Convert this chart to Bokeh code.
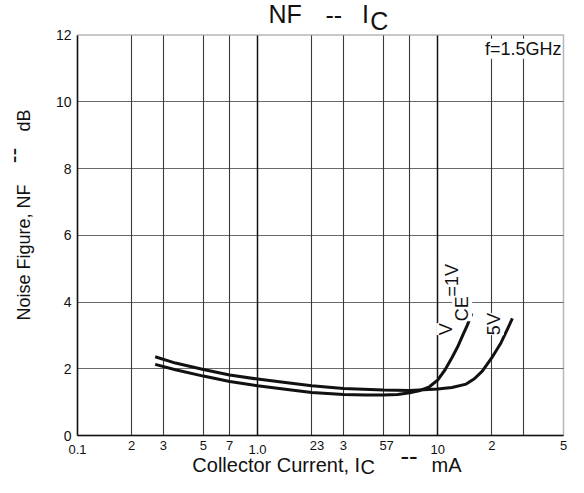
import math
from bokeh.plotting import figure
from bokeh.models import FixedTicker, Grid, Label, Range1d, BoxAnnotation
from bokeh.embed import file_html
from bokeh.resources import INLINE

# ---------------- data ----------------
ic_1v = [0.27, 0.35, 0.5, 0.7, 1.0, 1.5, 2.0, 3.0, 4.0, 5.0, 6.0, 7.0, 8.0,
         9.0, 10.0, 11.0, 12.0, 12.9, 13.7, 14.6, 15.5]
nf_1v = [2.13, 1.97, 1.78, 1.62, 1.49, 1.37, 1.29, 1.23, 1.21, 1.21, 1.23,
         1.28, 1.35, 1.46, 1.66, 1.97, 2.33, 2.65, 2.97, 3.30, 3.66]

ic_5v = [0.27, 0.35, 0.5, 0.7, 1.0, 1.5, 2.0, 3.0, 5.0, 7.0, 10.0, 12.0,
         14.4, 16.0, 17.7, 20.0, 22.5, 24.5, 26.0]
nf_5v = [2.36, 2.17, 1.98, 1.81, 1.69, 1.57, 1.49, 1.41, 1.36, 1.35, 1.39,
         1.44, 1.54, 1.70, 1.93, 2.33, 2.78, 3.20, 3.51]

x_min, x_max = 0.1, 50
y_min, y_max = 0, 12
grid_minor_x = [0.2, 0.3, 0.5, 0.7, 2, 3, 5, 7, 20, 30]
grid_decade_x = [1, 10]
grid_y = [2, 4, 6, 8, 10]
y_ticks = [0, 2, 4, 6, 8, 10, 12]

x_label_ticks = [0.2, 0.3, 0.5, 0.7, 3, 20, 50]
x_label_text = ["2", "3", "5", "7", "3", "2", "5"]
x_low_ticks = [0.1, 1.0, 10]
x_low_text = ["0.1", "1.0", "10"]
x_shift_text = ["23", "57"]

FONT = "Liberation Sans"
INK = "#111111"

# ---------------- layout (pixels of the canvas) ----------------
W, H = 568, 477
FL, FR, FT, FB = 77.0, 563.0, 34.5, 435.0       # inner chart rectangle
DEC = (FR - FL) / math.log10(x_max / x_min)
PPU = (FB - FT) / (y_max - y_min)
MID = 0.35   # labels are drawn centred ~0.35 em below the given point


def X(px):  # canvas x -> data x
    return x_min * 10 ** ((px - FL) / DEC)


def Y(py):  # canvas y -> data y
    return y_min + (FB - py) / PPU


def MX(rx):  # horizontal position measured on the reference -> canvas x
    return FL + (rx - 81.0) * (FR - FL) / 491.0


def RYpx(py):  # y inside the chart as read on the reference -> canvas y
    return FB - (446.5 - py) / 33.75 * PPU


p = figure(width=W, height=H, x_axis_type="log",
           x_range=Range1d(X(0), X(W)), y_range=Range1d(Y(H), Y(0)),
           output_backend="svg", toolbar_location=None,
           min_border_left=0, min_border_right=0,
           min_border_top=0, min_border_bottom=0)
p.title.visible = False
p.outline_line_color = None
p.background_fill_color = "white"
p.border_fill_color = "white"
p.xgrid.visible = False
p.ygrid.visible = False


def add_grid(dim, ticks, color, width, cross):
    if "cross_bounds" in Grid.properties():
        p.add_layout(Grid(dimension=dim, ticker=FixedTicker(ticks=ticks),
                          grid_line_color=color, grid_line_width=width,
                          cross_bounds=cross))
    else:
        n = len(ticks)
        if dim == 0:
            p.segment(x0=ticks, y0=[cross[0]] * n, x1=ticks, y1=[cross[1]] * n,
                      line_color=color, line_width=width, level="underlay")
        else:
            p.segment(x0=[cross[0]] * n, y0=ticks, x1=[cross[1]] * n, y1=ticks,
                      line_color=color, line_width=width, level="underlay")


add_grid(1, grid_y, "#6a6a6a", 1.2, (x_min, x_max))
add_grid(0, grid_minor_x, "#3a3a3a", 1.1, (y_min, y_max))
add_grid(0, grid_decade_x, "#111111", 1.5, (y_min, y_max))

# frame outline
p.add_layout(BoxAnnotation(left=x_min, right=x_max, bottom=y_min, top=y_max,
                           fill_color=None, fill_alpha=0,
                           line_color=INK, line_width=1.5))

# axes, pinned to the chart rectangle
xa = p.xaxis[0]
xa.fixed_location = y_min
xa.bounds = (x_min, x_max)
xa.ticker = FixedTicker(ticks=x_label_ticks)
xa.major_label_overrides = {t: s for t, s in zip(x_label_ticks, x_label_text)}
xa.major_tick_out = 0
xa.major_tick_in = 0
xa.minor_tick_out = 0
xa.minor_tick_in = 0
xa.axis_line_color = INK
xa.axis_line_width = 1.5
xa.major_label_text_font = FONT
xa.major_label_text_font_size = "13px"
xa.major_label_text_color = INK
xa.major_label_standoff = 5

ya = p.yaxis[0]
ya.fixed_location = x_min
ya.bounds = (y_min, y_max)
ya.ticker = FixedTicker(ticks=y_ticks)
ya.major_tick_out = 0
ya.major_tick_in = 0
ya.minor_tick_out = 0
ya.minor_tick_in = 0
ya.axis_line_color = INK
ya.axis_line_width = 1.5
ya.major_label_text_font = FONT
ya.major_label_text_font_size = "14px"
ya.major_label_text_color = INK
ya.major_label_standoff = 6

# curves
p.line(ic_1v, nf_1v, line_width=3, line_color=INK, line_join="round")
p.line(ic_5v, nf_5v, line_width=3, line_color=INK, line_join="round")


def lab(text, bx, by, size, rotated=False, align="left", bg=False):
    """bx, by: canvas position of the text's start (baseline) point."""
    if rotated:
        bx -= MID * size
    else:
        by -= MID * size
    l = Label(x=X(bx), y=Y(by), text=text, text_font=FONT,
              text_font_size=f"{size}px", text_align=align,
              text_baseline="alphabetic",
              angle=math.pi / 2 if rotated else 0.0, text_color=INK)
    if bg:
        l.background_fill_color = "white"
    p.add_layout(l)


def XT(t):  # data x -> canvas x
    return FL + math.log10(t / x_min) * DEC


# extra tick labels (lower row and shifted ones)
for t, s in zip(x_low_ticks, x_low_text):
    lab(s, XT(t), 454, 13, align="center")
for s, rx in zip(x_shift_text, [323, 393.3]):
    lab(s, MX(rx), 449.8, 13, align="center")

# title
lab("NF", MX(274), 22.5, 25)
lab("--", MX(340), 23.2, 25, align="center")
lab("I", MX(368.4), 22.5, 25)
lab("C", MX(376.8), 29, 25)

# x axis title
lab("Collector Current, I", MX(197), 471, 20)
lab("C", MX(367), 473.3, 20)
lab("--", MX(416), 464.7, 26, align="center")
lab("mA", MX(438.7), 471, 20)

# y axis title (rotated)
lab("Noise Figure, NF", MX(33), 320, 18, rotated=True)
lab("--", MX(27.2) - 4.0, 155, 23.4, rotated=True, align="center")
lab("dB", MX(33), 109, 18, rotated=True, align="right")

# annotations inside the chart
lab("f=1.5GHz", MX(570), RYpx(61.7), 18, align="right", bg=True)
lab("V", MX(460), RYpx(345), 18, rotated=True, bg=True)
lab("CE", MX(476), RYpx(331), 18, rotated=True, bg=True)
lab("=1V", MX(466), RYpx(306), 18, rotated=True, bg=True)
lab("5V", MX(508), RYpx(345), 18, rotated=True, bg=True)

open("out.html", "w").write(file_html(p, INLINE))
